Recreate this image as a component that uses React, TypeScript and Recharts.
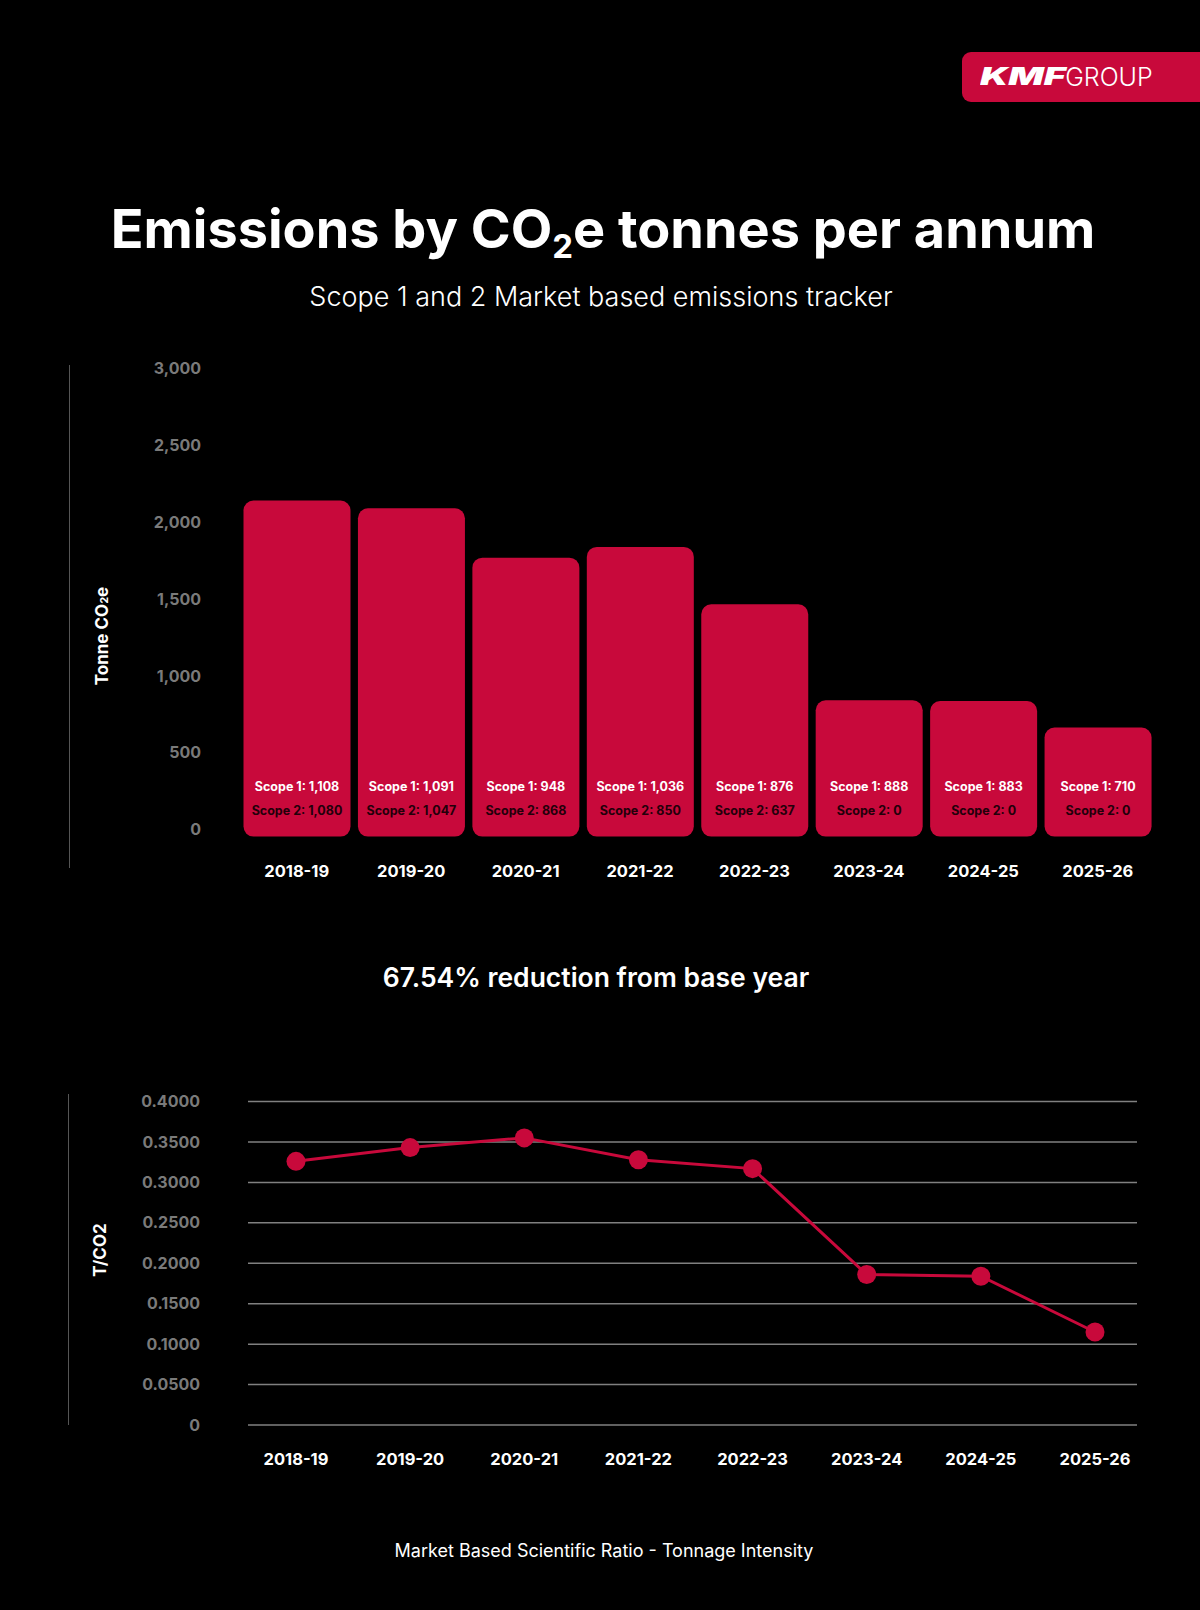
import React from "react";
import {
  BarChart,
  Bar,
  LineChart,
  Line,
  XAxis,
  YAxis,
  CartesianGrid,
  Rectangle,
} from "recharts";

// financial years
const years = [
  "2018-19",
  "2019-20",
  "2020-21",
  "2021-22",
  "2022-23",
  "2023-24",
  "2024-25",
  "2025-26",
];

// tonnes CO2e
const scope1 = [1108, 1091, 948, 1036, 876, 888, 883, 710];
const scope2 = [1080, 1047, 868, 850, 637, 0, 0, 0];

// market based ratio, T/CO2
const intensity = [0.326, 0.343, 0.355, 0.328, 0.317, 0.186, 0.184, 0.115];

const barTicks = [0, 500, 1000, 1500, 2000, 2500, 3000];
const lineTicks = [0, 0.05, 0.1, 0.15, 0.2, 0.25, 0.3, 0.35, 0.4];

const RED = "#c8093b";
const FONT = "Inter, 'Open Sans', sans-serif";

const barData = years.map((year, i) => ({
  year,
  scope1: scope1[i],
  scope2: scope2[i],
  total: scope1[i] + scope2[i],
}));

const lineData = years.map((year, i) => ({ year, ratio: intensity[i] }));

const fmt = (n: number) => n.toLocaleString("en-GB");

function ScopeBar(props: any) {
  const { x, y, width, height, payload } = props;
  const cx = x + width / 2;
  const bottom = y + height;
  return (
    <g>
      <Rectangle x={x} y={y} width={width} height={height} radius={10} fill={RED} />
      <text
        x={cx}
        y={bottom - 50.5}
        dy="0.36em"
        textAnchor="middle"
        fill="#fff"
        fontSize={12.5}
        fontWeight={700}
        fontFamily={FONT}
      >
        {`Scope 1: ${fmt(payload.scope1)}`}
      </text>
      <text
        x={cx}
        y={bottom - 26.5}
        dy="0.36em"
        textAnchor="middle"
        fill="#22000a"
        fontSize={12.5}
        fontWeight={700}
        fontFamily={FONT}
      >
        {`Scope 2: ${fmt(payload.scope2)}`}
      </text>
    </g>
  );
}

const centered = (top: number, size: number, weight: number, cx = 600): React.CSSProperties => ({
  position: "absolute",
  left: cx - 600,
  width: 1200,
  top: top - size / 2,
  fontSize: size,
  lineHeight: 1,
  fontWeight: weight,
  textAlign: "center",
  color: "#fff",
  whiteSpace: "nowrap",
});

const sideLabel = (cx: number, cy: number): React.CSSProperties => ({
  position: "absolute",
  left: cx,
  top: cy,
  transform: "translate(-50%, -50%) rotate(-90deg)",
  color: "#fff",
  fontSize: 17,
  fontWeight: 700,
  lineHeight: 1,
  whiteSpace: "nowrap",
});

export default function App() {
  return (
    <div
      style={{
        position: "relative",
        width: 1200,
        height: 1610,
        background: "#000",
        fontFamily: FONT,
        overflow: "hidden",
      }}
    >
      <style>{`body{margin:0;background:#000}`}</style>

      {/* logo */}
      <div
        style={{
          position: "absolute",
          left: 962,
          top: 52,
          width: 250,
          height: 50,
          background: RED,
          borderRadius: 9,
          color: "#fff",
          display: "flex",
          alignItems: "center",
          paddingLeft: 18,
          boxSizing: "border-box",
          lineHeight: 1,
        }}
      >
        <span
          style={{
            display: "inline-block",
            fontSize: 24,
            fontWeight: 900,
            fontStyle: "italic",
            transform: "scaleX(1.55)",
            transformOrigin: "left center",
            marginRight: 30,
          }}
        >
          KMF
        </span>
        <span style={{ fontSize: 25, fontWeight: 300 }}>GROUP</span>
      </div>

      <div style={centered(229, 54, 700, 603)}>
        Emissions by CO
        <span style={{ fontSize: 33, verticalAlign: -10 }}>2</span>e tonnes per annum
      </div>
      <div style={centered(296, 27, 300, 601)}>
        Scope 1 and 2 Market based emissions tracker
      </div>

      {/* bar chart */}
      <div style={{ position: "absolute", left: 69, top: 365, width: 1, height: 503, background: "#555" }} />
      <div style={sideLabel(102, 636)}>
        Tonne CO<span style={{ fontSize: 11 }}>2</span>e
      </div>
      <div style={{ position: "absolute", left: 0, top: 340 }}>
        <BarChart
          width={1200}
          height={560}
          data={barData}
          margin={{ top: 35.8, right: 45, bottom: 33.4, left: 0 }}
        >
          <XAxis
            dataKey="year"
            height={30}
            axisLine={false}
            tickLine={false}
            tickSize={0}
            tickMargin={29}
            tick={{ fill: "#fff", fontSize: 16.5, fontWeight: 700, fontFamily: FONT }}
          />
          <YAxis
            width={239.5}
            domain={[0, 3000]}
            ticks={barTicks}
            axisLine={false}
            tickLine={false}
            tickSize={0}
            tickMargin={38.5}
            tickFormatter={(v: number) => fmt(v)}
            tick={{ fill: "#7a7a7a", fontSize: 16, fontWeight: 700, fontFamily: FONT, dy: -7 }}
          />
          <Bar dataKey="total" barSize={107} shape={<ScopeBar />} isAnimationActive={false} />
        </BarChart>
      </div>

      <div style={centered(977, 26.5, 600, 596)}>67.54% reduction from base year</div>

      {/* line chart */}
      <div style={{ position: "absolute", left: 68, top: 1094, width: 1, height: 331, background: "#555" }} />
      <div style={sideLabel(99.5, 1250)}>T/CO2</div>
      <div style={{ position: "absolute", left: 0, top: 1060 }}>
        <LineChart
          width={1200}
          height={440}
          data={lineData}
          margin={{ top: 41.5, right: 63, bottom: 45, left: 0 }}
        >
          <CartesianGrid vertical={false} stroke="#808080" strokeWidth={1.5} />
          <XAxis
            dataKey="year"
            height={30}
            padding={{ left: 48, right: 42 }}
            axisLine={false}
            tickLine={false}
            tickSize={0}
            tickMargin={28}
            tick={{ fill: "#fff", fontSize: 16.5, fontWeight: 700, fontFamily: FONT }}
          />
          <YAxis
            width={248}
            domain={[0, 0.4]}
            ticks={lineTicks}
            axisLine={false}
            tickLine={false}
            tickSize={0}
            tickMargin={48}
            tickFormatter={(v: number) => (v === 0 ? "0" : v.toFixed(4))}
            tick={{ fill: "#7a7a7a", fontSize: 16, fontWeight: 700, fontFamily: FONT }}
          />
          <Line
            dataKey="ratio"
            stroke={RED}
            strokeWidth={3}
            dot={{ r: 9.5, fill: RED, stroke: "none" }}
            activeDot={false}
            isAnimationActive={false}
          />
        </LineChart>
      </div>

      <div style={centered(1551, 18, 400, 604)}>
        Market Based Scientific Ratio - Tonnage Intensity
      </div>
    </div>
  );
}
